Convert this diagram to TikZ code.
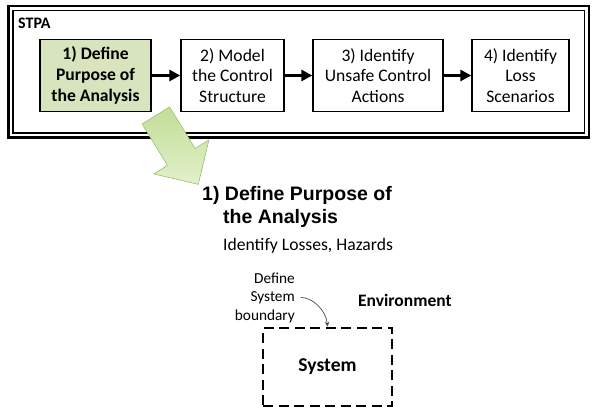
\documentclass[tikz,border=0pt]{standalone}
\usepackage{fontspec}
\setmainfont{Carlito}
\newfontfamily\headfont{Liberation Sans}
\usetikzlibrary{arrows.meta}

\definecolor{stepgreen}{HTML}{D7E4BD}
\definecolor{arrowgreen}{HTML}{C2DE98}
\definecolor{arrowlight}{HTML}{E2F0CC}
\definecolor{arrowedge}{HTML}{A9CC78}

\begin{document}
\begin{tikzpicture}[x=1pt, y=-1pt,
    stage/.style={draw, line width=1.4pt, minimum height=72pt, fill=#1, inner sep=0pt,
                  font=\fontsize{17.6}{20.7}\selectfont, align=center},
    stage/.default=white,
    flow/.style={-{Triangle[length=11pt, width=11pt]}, line width=3.4pt},
    frame/.style={draw, line width=#1, minimum width=576pt, minimum height=127pt},
    pointer/.style={-{Stealth[length=5pt, width=4.5pt]}, line width=0.7pt, color=black!70,
                    shorten <=6pt}
]
\useasboundingbox (0,0) rectangle (594,414);

%% STPA frame (double border)
\node[frame=2.5pt, minimum width=580.5pt, minimum height=131.5pt] (outer) at (298.75,71.75) {};
\node[frame=1.4pt, minimum width=571.5pt, minimum height=122.5pt] (inner) at (298.75,71.75) {};
\node[font=\fontsize{16}{19}\selectfont\bfseries, anchor=base west, inner sep=0pt] (stpa) at (18,28.5) {STPA};

%% The four steps
\node[stage=stepgreen, minimum width=111pt, font=\fontsize{17.6}{20.7}\selectfont\bfseries]
      (define) at (95.5,75.5) {1) Define\\Purpose of\\the Analysis};
\node[stage, minimum width=103pt] (model) at (232.5,75.5) {2) Model\\the Control\\Structure};
\node[stage, minimum width=130pt] (uca) at (378,75.5) {3) Identify\\Unsafe Control\\Actions};
\node[stage, minimum width=97pt] (loss) at (520.5,75.5) {4) Identify\\Loss\\Scenarios};

\draw[flow] (define) -- (model);
\draw[flow] (model) -- (uca);
\draw[flow] (uca) -- (loss);

%% Big green arrow out of step 1
\filldraw[top color=arrowgreen, bottom color=arrowlight, draw=arrowedge, line width=0.6pt]
    (142.1,124.0) -- (169.6,107.0) -- (195.1,148.5) -- (208.9,140.0)
    -- (198.2,184.3) -- (153.8,173.9) -- (167.6,165.5) -- cycle;

%% Step 1 in detail
\node[font=\headfont\bfseries\fontsize{19.5}{23.3}\selectfont, align=left, anchor=base west,
      inner sep=0pt] (purpose) at (202,223.3) {1) Define Purpose of\\\hspace*{21pt}the Analysis};
\node[font=\fontsize{17.6}{21}\selectfont, anchor=base west, inner sep=0pt]
      (goals) at (223,250) {Identify Losses, Hazards};

\node[font=\fontsize{15.3}{18.5}\selectfont, align=right, anchor=base east, inner sep=0pt]
      (bound) at (295,320) {Define\\System\\boundary};
\node[font=\fontsize{17.5}{21}\selectfont\bfseries, anchor=base west, inner sep=0pt]
      (env) at (358,306.7) {Environment};
\node[draw, dash pattern=on 10pt off 5.5pt, line width=2.6pt, minimum width=129pt,
      minimum height=78pt, font=\fontsize{19.6}{23}\selectfont\bfseries] (system) at (327.5,367) {System};

\draw[pointer] (bound.east) to[out=0, in=95] (system.north);

\end{tikzpicture}
\end{document}
